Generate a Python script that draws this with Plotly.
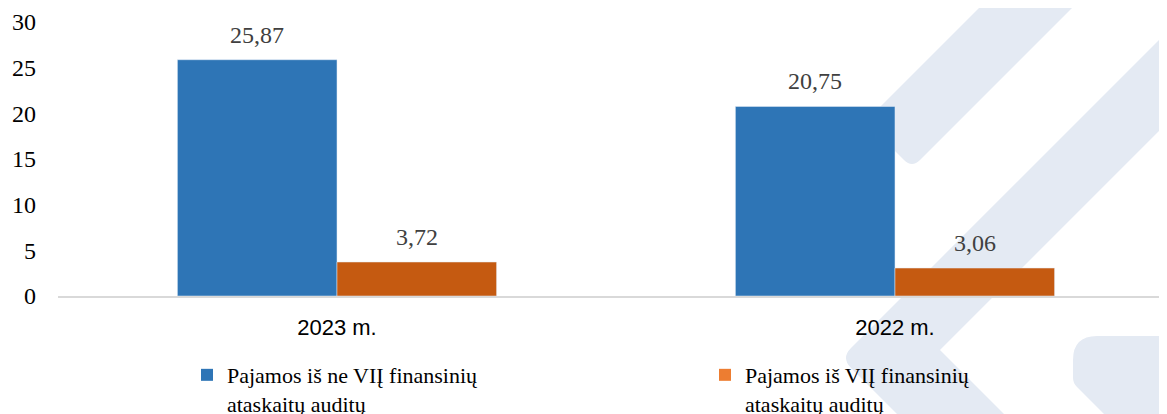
import plotly.graph_objects as go

categories = ["2023 m.", "2022 m."]
series_names = ["Pajamos iš ne VIĮ finansinių<br>ataskaitų auditų",
                "Pajamos iš VIĮ finansinių<br>ataskaitų auditų"]
values_non_vii = [25.87, 20.75]
values_vii = [3.72, 3.06]
y_ticks = [0, 5, 10, 15, 20, 25, 30]

# page body has an 8px margin; size the figure so it lands on the 1167x414 view
OFF = 8
W, H = 1167 - OFF, 414 - OFF
L, T = 58 - OFF, 22 - OFF
PW, PH = 1109, 274
B = H - T - PH
R = W - L - PW

bar_colors = ["#2E75B6", "#C55A11"]
legend_colors = ["#2E75B6", "#ED7D31"]
serif = "Liberation Serif"


def px(x, y):
    # x, y in view pixels -> paper coords
    x, y = x - OFF, y - OFF
    return (x - L) / PW, (T + PH - y) / PH


def path(cmds):
    out = []
    for c in cmds:
        if isinstance(c, str):
            out.append(c)
        else:
            xx, yy = px(*c)
            out.append(f"{xx:.5f},{yy:.5f}")
    return " ".join(out)


fig = go.Figure()
series = [values_non_vii, values_vii]
for i, vals in enumerate(series):
    fig.add_trace(go.Bar(x=categories, y=vals, marker_color=bar_colors[i],
                         showlegend=False, hoverinfo="x+y"))
legend_ids = ["legend", "legend2"]
for i, name in enumerate(series_names):
    fig.add_trace(go.Scatter(x=[None], y=[None], mode="markers", name=name, legend=legend_ids[i],
                             marker=dict(symbol="square", size=12, color=legend_colors[i])))

bar_half = 0.286 * 558 / 2
annotations = []
for i, vals in enumerate(series):
    shift = -bar_half if i == 0 else bar_half
    for c, v in zip(categories, vals):
        annotations.append(dict(x=c, y=v, xref="x", yref="y", text=f"{v:.2f}".replace(".", ","),
                                showarrow=False, yanchor="bottom", xshift=shift, yshift=10,
                                font=dict(family=serif, size=24, color="#404040")))

wm = "#E4EAF3"
shapes = [
    dict(type="path", xref="paper", yref="paper", layer="below", fillcolor=wm, line_width=0,
         path=path(["M", (992, -5), "L", (1085, -5), "L", (920, 160), "Q", (912, 168), (904, 160),
                    "L", (870, 126), "Q", (865.5, 121.5), (870, 117), "Z"])),
    dict(type="path", xref="paper", yref="paper", layer="below", fillcolor=wm, line_width=0,
         path=path(["M", (1175, 24), "L", (851, 348), "Q", (841, 358), (851, 368), "L", (903, 420),
                    "L", (1010, 420), "L", (940, 350), "L", (1175, 115), "Z"])),
    dict(type="path", xref="paper", yref="paper", layer="below", fillcolor=wm, line_width=0,
         path=path(["M", (1175, 336), "L", (1097, 336), "Q", (1073, 336), (1073, 360), "L", (1073, 378),
                    "Q", (1073, 383), (1077, 387), "L", (1110, 420), "L", (1175, 420), "Z"])),
]

leg_common = dict(orientation="h", xanchor="left", y=-0.2118, yanchor="top", valign="top",
                  font=dict(family=serif, size=22, color="#000000"), bgcolor="rgba(0,0,0,0)")

fig.update_layout(
    width=W, height=H,
    margin=dict(l=L, r=R, t=T, b=B, autoexpand=False),
    paper_bgcolor="white", plot_bgcolor="rgba(0,0,0,0)",
    barmode="group", bargap=0.428, bargroupgap=0,
    annotations=annotations, shapes=shapes,
    xaxis=dict(type="category", categoryorder="array", categoryarray=categories,
               range=[-0.5, 1.4875], showline=True, linecolor="#D9D9D9", linewidth=2,
               ticks="", showgrid=False, ticklabelstandoff=11,
               tickfont=dict(family="Liberation Sans", size=22, color="#000000")),
    yaxis=dict(range=[0, 30], tickvals=y_ticks, showgrid=False, zeroline=False, showline=False,
               ticks="", ticklabelstandoff=21,
               tickfont=dict(family=serif, size=24, color="#000000")),
    legend=dict(x=0.1163, **leg_common),
    legend2=dict(x=0.5834, **leg_common),
    showlegend=True,
)

fig.write_html("out.html")
